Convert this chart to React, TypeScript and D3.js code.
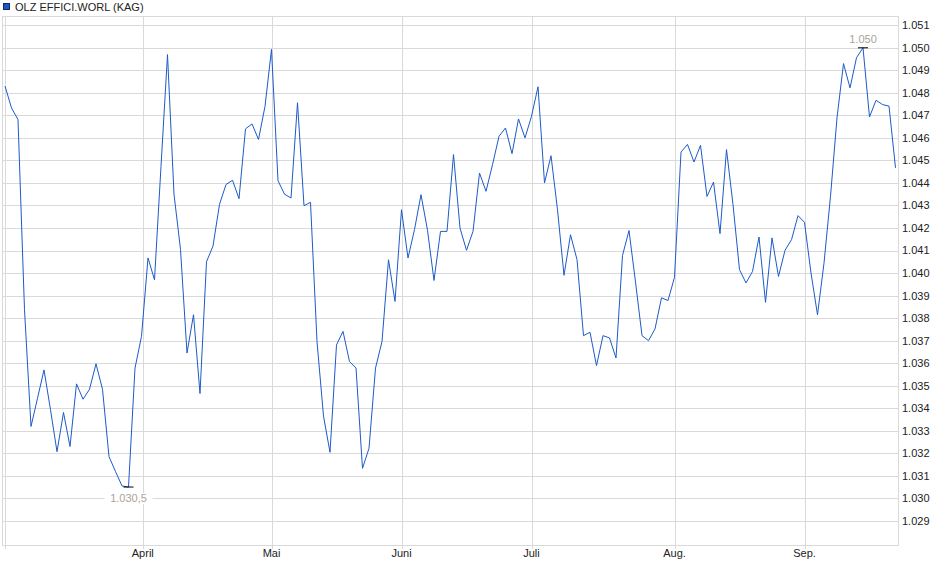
import React, { useEffect } from "react";
import * as d3 from "d3";

const seriesName = "OLZ EFFICI.WORL (KAG)";

const navValues: number[] = [
  1.0483, 1.04733, 1.04681, 1.03837, 1.03319, 1.03444, 1.0357, 1.03393, 1.03207, 1.03381,
  1.0323, 1.03508, 1.0344, 1.03484, 1.03597, 1.03484, 1.03185, 1.03119, 1.03055, 1.0305,
  1.03578, 1.03719, 1.04067, 1.0397, 1.04474, 1.0497, 1.0435, 1.04105, 1.03645, 1.03815,
  1.03465, 1.0405, 1.0412, 1.04305, 1.04393, 1.04412, 1.0433, 1.0464, 1.04662, 1.04593,
  1.0474, 1.04993, 1.0441, 1.0435, 1.04333, 1.04756, 1.04299, 1.04314, 1.03696, 1.03365,
  1.03204, 1.03681, 1.03741, 1.03607, 1.03578, 1.03133, 1.03222, 1.03578, 1.03696, 1.04059,
  1.03874, 1.04281, 1.04067, 1.04193, 1.04348, 1.0419, 1.03967, 1.04185, 1.04185, 1.04526,
  1.042, 1.04101, 1.04185, 1.04444, 1.04363, 1.04481, 1.04607, 1.04644, 1.0453, 1.04684,
  1.046, 1.04696, 1.04827, 1.044, 1.04521, 1.04281, 1.0399, 1.0417, 1.0406, 1.03722,
  1.03737, 1.03589, 1.03722, 1.03712, 1.03623, 1.04078, 1.04189, 1.0396, 1.03722, 1.037,
  1.03752, 1.0389, 1.03878, 1.03981, 1.04537, 1.04571, 1.04493, 1.04567, 1.0434, 1.04404,
  1.04175, 1.04548, 1.04304, 1.04015, 1.03956, 1.04007, 1.0416, 1.0387, 1.04156, 1.03985,
  1.04101, 1.04148, 1.04255, 1.04225, 1.04, 1.03815, 1.04044, 1.04341, 1.04689, 1.0493,
  1.04822, 1.04956, 1.05, 1.04693, 1.04767, 1.04748, 1.04741, 1.04467,
];

const yTicks: number[] = [
  1.029, 1.03, 1.031, 1.032, 1.033, 1.034, 1.035, 1.036, 1.037, 1.038, 1.039, 1.04,
  1.041, 1.042, 1.043, 1.044, 1.045, 1.046, 1.047, 1.048, 1.049, 1.05, 1.051,
];

// month boundaries expressed as positions on the trading-day index
const monthTickIdx: number[] = [0, 21.2, 41, 61, 81, 103, 123];
const monthLabels: string[] = ["", "April", "Mai", "Juni", "Juli", "Aug.", "Sep."];

const W = 940;
const H = 579;
const plot = { left: 3, right: 898, top: 16, bottom: 545 };
const FONT = "'Liberation Sans', Arial, Helvetica, sans-serif";
const GRID = "#d9d9d9";
const LINE = "#1d5ac8";
const NOTE = "#aaa39b";

function fmtExtreme(v: number): string {
  const s = d3.format(".4f")(v);
  const last = s.slice(-1);
  return last === "0" ? s.slice(0, -1) : s.slice(0, -1) + "," + last;
}

export default function App() {
  useEffect(() => {
    document.body.style.margin = "0";
  }, []);

  const x = d3.scaleLinear().domain([0, navValues.length - 1]).range([5, 895.5]);
  const y = d3.scaleLinear().domain([1.03, 1.05]).range([498.3, 47.8]);
  const crisp = (v: number) => Math.round(v) + 0.5;

  const line = d3
    .line<number>()
    .x((_, i) => x(i))
    .y((d) => y(d));

  const maxI = d3.maxIndex(navValues);
  const minI = d3.minIndex(navValues);
  const maxLbl = fmtExtreme(navValues[maxI]);
  const minLbl = fmtExtreme(navValues[minI]);

  return (
    <svg
      width={W}
      height={H}
      style={{ position: "absolute", left: 0, top: 0, background: "#fff" }}
      fontFamily={FONT}
    >
      <rect x={0} y={0} width={W} height={H} fill="#fff" />
      {/* legend */}
      <rect x={3.5} y={3.5} width={6} height={6} fill="#1f55be" stroke="#0c2b68" strokeWidth={1} />
      <text x={15} y={11.3} fontSize={11} fill="#222">
        {seriesName}
      </text>

      {/* horizontal grid */}
      {yTicks.map((t) => (
        <line
          key={"g" + t}
          x1={plot.left}
          x2={plot.right}
          y1={crisp(y(t))}
          y2={crisp(y(t))}
          stroke={GRID}
          strokeWidth={1}
        />
      ))}
      {/* vertical grid + ticks */}
      {monthTickIdx.map((m) => (
        <g key={"m" + m}>
          <line
            x1={crisp(x(m))}
            x2={crisp(x(m))}
            y1={plot.top}
            y2={plot.bottom + 4}
            stroke={GRID}
            strokeWidth={1}
          />
        </g>
      ))}
      {/* frame */}
      <line x1={plot.left - 0.5} x2={plot.right + 0.5} y1={plot.top + 0.5} y2={plot.top + 0.5} stroke={GRID} />
      <line x1={plot.left - 0.5} x2={plot.right + 0.5} y1={plot.bottom + 0.5} y2={plot.bottom + 0.5} stroke={GRID} />
      <line x1={plot.left - 0.5} x2={plot.left - 0.5} y1={plot.top} y2={plot.bottom + 1} stroke={GRID} />
      <line x1={plot.right + 0.5} x2={plot.right + 0.5} y1={plot.top} y2={plot.bottom + 1} stroke={GRID} />

      {/* y labels */}
      {yTicks.map((t) => (
        <text
          key={"l" + t}
          x={902}
          y={y(t)}
          dy="0.36em"
          fontSize={11}
          fill="#222"
        >
          {d3.format(".3f")(t)}
        </text>
      ))}
      {/* x labels */}
      {monthTickIdx.map((m, i) =>
        monthLabels[i] ? (
          <text
            key={"x" + m}
            x={x(m)}
            y={557}
            fontSize={11}
            fill="#222"
            textAnchor="middle"
          >
            {monthLabels[i]}
          </text>
        ) : null
      )}

      {/* series */}
      <path d={line(navValues) || ""} fill="none" stroke={LINE} strokeWidth={1} strokeLinejoin="round" />

      {/* max marker */}
      <line
        x1={x(maxI) - 5}
        x2={x(maxI) + 5}
        y1={y(navValues[maxI])}
        y2={y(navValues[maxI])}
        stroke="#000"
        strokeWidth={1}
      />
      <text x={x(maxI)} y={y(navValues[maxI]) - 5} fontSize={11} fill={NOTE} textAnchor="middle">
        {maxLbl}
      </text>

      {/* min marker */}
      <rect x={x(minI) - 24} y={y(navValues[minI]) + 6} width={48} height={11} fill="#fff" />
      <line
        x1={x(minI) - 5}
        x2={x(minI) + 5}
        y1={y(navValues[minI])}
        y2={y(navValues[minI])}
        stroke="#000"
        strokeWidth={1}
      />
      <text x={x(minI)} y={y(navValues[minI]) + 15} fontSize={11} fill={NOTE} textAnchor="middle">
        {minLbl}
      </text>
    </svg>
  );
}
